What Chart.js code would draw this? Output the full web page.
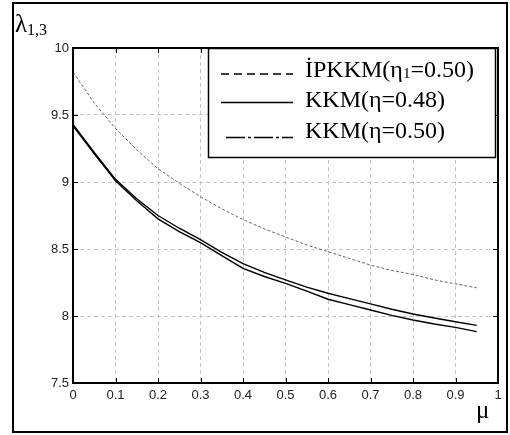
<!DOCTYPE html>
<html>
<head>
<meta charset="utf-8">
<script src="https://cdn.jsdelivr.net/npm/chart.js@4/dist/chart.umd.min.js"></script>
<style>
html,body{margin:0;padding:0;background:#fff;}
#wrap{width:510px;height:435px;}
</style>
</head>
<body>
<div id="wrap"><canvas id="c" width="510" height="435"></canvas></div>
<script>
const mu = [0,0.05,0.1,0.15,0.2,0.25,0.3,0.35,0.4,0.45,0.5,0.55,0.6,0.65,0.7,0.75,0.8,0.85,0.9,0.95];
const ipkkm050 = [9.82,9.59,9.40,9.24,9.10,8.99,8.89,8.80,8.72,8.65,8.59,8.53,8.48,8.43,8.38,8.34,8.31,8.27,8.24,8.21];
const kkm048 = [9.43,9.22,9.02,8.875,8.75,8.655,8.57,8.475,8.39,8.325,8.27,8.215,8.17,8.13,8.09,8.05,8.015,7.985,7.957,7.93];
const kkm050 = [9.42,9.21,9.01,8.86,8.725,8.63,8.547,8.45,8.356,8.295,8.244,8.185,8.125,8.085,8.045,8.005,7.97,7.94,7.915,7.883];
const xTickLabels = ['0','0.1','0.2','0.3','0.4','0.5','0.6','0.7','0.8','0.9','1'];
const yTickLabels = ['7.5','8','8.5','9','9.5','10'];
const legendLabels = ['İPKKM(η', 'KKM(η=0.48)', 'KKM(η=0.50)'];

const toPts = arr => mu.map((m,i)=>({x:m,y:arr[i]}));

const decor = {
  id:'decor',
  beforeDraw(chart){
    const ctx = chart.ctx;
    ctx.save();
    ctx.fillStyle='#fff';
    ctx.fillRect(0,0,chart.width,chart.height);
    ctx.strokeStyle='#000';
    ctx.lineWidth=2;
    ctx.strokeRect(13,3,494,429);
    ctx.restore();
  },
  afterDatasetsDraw(chart){
    const ctx = chart.ctx;
    const a = chart.chartArea;
    const xs = chart.scales.x, ys = chart.scales.y;
    ctx.save();
    // inner ticks
    ctx.strokeStyle='#000';
    ctx.lineWidth=1;
    ctx.beginPath();
    xTickLabels.forEach(t=>{
      const px = Math.round(xs.getPixelForValue(parseFloat(t)))+0.5;
      ctx.moveTo(px,a.bottom); ctx.lineTo(px,a.bottom-5);
      ctx.moveTo(px,a.top); ctx.lineTo(px,a.top+5);
    });
    yTickLabels.forEach(t=>{
      const py = Math.round(ys.getPixelForValue(parseFloat(t)))+0.5;
      ctx.moveTo(a.left,py); ctx.lineTo(a.left+5,py);
      ctx.moveTo(a.right,py); ctx.lineTo(a.right-5,py);
    });
    ctx.stroke();
    // axes box
    ctx.lineWidth=2;
    ctx.strokeRect(a.left,a.top,a.right-a.left,a.bottom-a.top);

    // legend
    const lx0=208, ly0=48, lx1=495, ly1=157;
    ctx.fillStyle='#fff';
    ctx.fillRect(lx0,ly0,lx1-lx0,ly1-ly0);
    ctx.lineWidth=1.5;
    ctx.strokeRect(lx0+0.5,ly0+0.5,lx1-lx0,ly1-ly0);
    ctx.lineWidth=1.6;
    const rows=[{y:74,dash:[8,5],x0:221},{y:102.5,dash:[],x0:221},{y:137.5,dash:[19,3,3,3],x0:226}];
    rows.forEach(r=>{
      ctx.setLineDash(r.dash);
      ctx.beginPath(); ctx.moveTo(r.x0,r.y); ctx.lineTo(293,r.y); ctx.stroke();
    });
    ctx.setLineDash([]);
    ctx.fillStyle='#000';
    ctx.textBaseline='alphabetic';
    ctx.textAlign='left';
    ctx.font='24px "Liberation Serif"';
    let tx=305;
    ctx.fillText(legendLabels[0],tx,77);
    tx += ctx.measureText(legendLabels[0]).width;
    ctx.font='15px "Liberation Serif"';
    ctx.fillText('1',tx,78);
    tx += ctx.measureText('1').width;
    ctx.font='24px "Liberation Serif"';
    ctx.fillText('=0.50)',tx,77);
    ctx.fillText(legendLabels[1],305,107);
    ctx.fillText(legendLabels[2],305,138);

    // axis titles
    ctx.font='25px "Liberation Serif"';
    ctx.fillText('λ',15,32);
    const lw = ctx.measureText('λ').width;
    ctx.font='16px "Liberation Serif"';
    ctx.fillText('1,3',15+lw,35);
    ctx.font='25px "Liberation Serif"';
    ctx.fillText('μ',476,418);
    ctx.restore();
  }
};

new Chart(document.getElementById('c'),{
  type:'line',
  data:{
    datasets:[
      {label:'İPKKM(η1=0.50)',data:toPts(ipkkm050),borderColor:'#666',borderWidth:1,borderDash:[3,2],pointRadius:0,fill:false,tension:0},
      {label:'KKM(η=0.48)',data:toPts(kkm048),borderColor:'#000',borderWidth:1.4,pointRadius:0,fill:false,tension:0},
      {label:'KKM(η=0.50)',data:toPts(kkm050),borderColor:'#000',borderWidth:1.4,pointRadius:0,fill:false,tension:0}
    ]
  },
  options:{
    responsive:false,
    animation:false,
    layout:{padding:{left:0,right:12,top:48,bottom:0}},
    plugins:{legend:{display:false},tooltip:{enabled:false}},
    scales:{
      x:{
        type:'linear',min:0,max:1,
        afterBuildTicks(s){ s.ticks = xTickLabels.map(t=>({value:parseFloat(t)})); },
        afterFit(s){ s.height=52; },
        grid:{color:'#c4c4c4',lineWidth:1,drawTicks:false},
        border:{display:false,dash:[4,3]},
        ticks:{autoSkip:false,maxRotation:0,padding:5,color:'#222',font:{family:'"Liberation Sans"',size:13},
          callback:(v,i)=>xTickLabels[i]}
      },
      y:{
        type:'linear',min:7.5,max:10,
        afterBuildTicks(s){ s.ticks = yTickLabels.map(t=>({value:parseFloat(t)})); },
        afterFit(s){ s.width=73; },
        grid:{color:'#c4c4c4',lineWidth:1,drawTicks:false},
        border:{display:false,dash:[4,3]},
        ticks:{autoSkip:false,padding:4,color:'#222',font:{family:'"Liberation Sans"',size:13},
          callback:(v,i)=>yTickLabels[i]}
      }
    }
  },
  plugins:[decor]
});
</script>
</body>
</html>
